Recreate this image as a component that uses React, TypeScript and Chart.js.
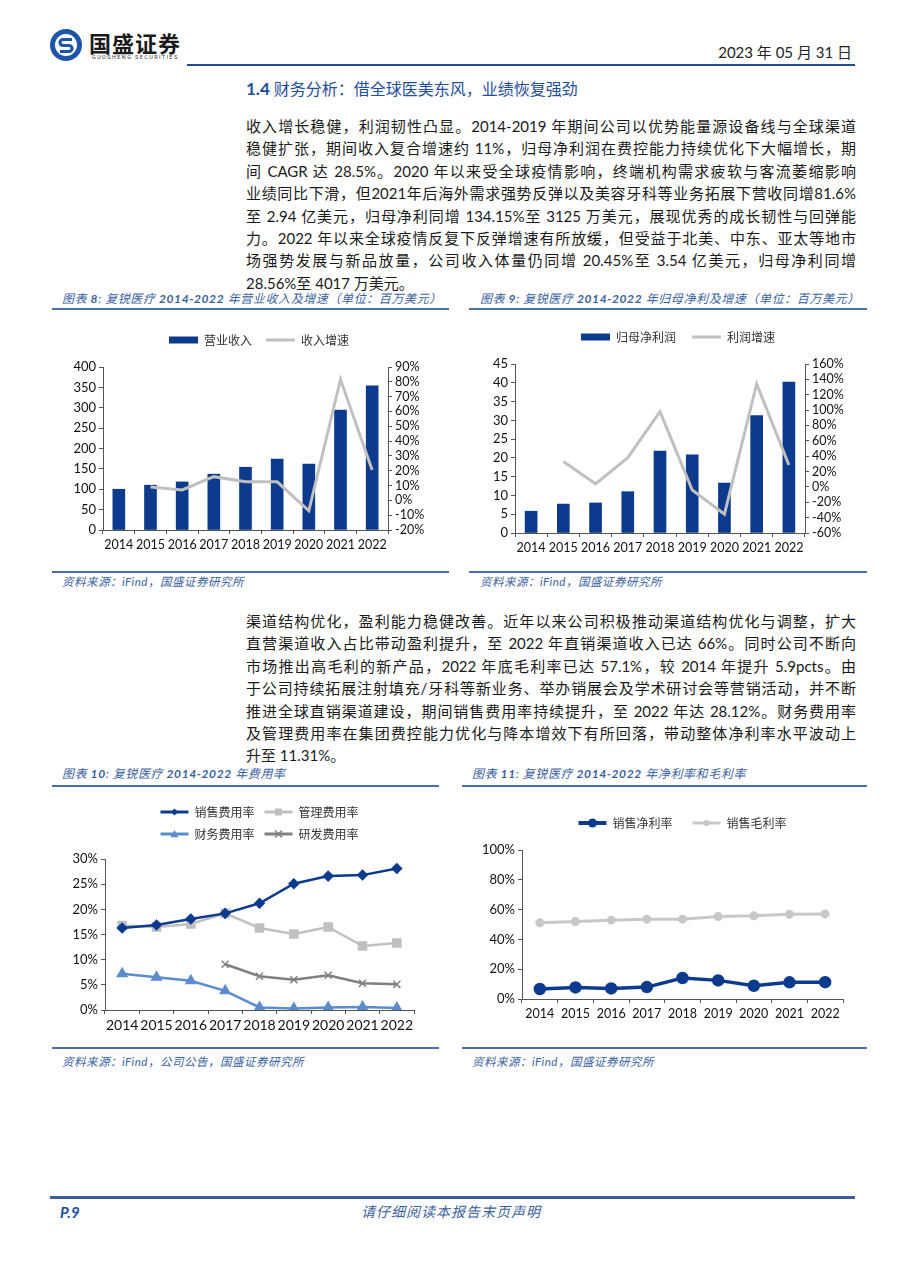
import React, { useEffect, useRef } from "react";
import { Chart, registerables } from "chart.js";

Chart.register(...registerables);

// ---------- data ----------
const years = ["2014", "2015", "2016", "2017", "2018", "2019", "2020", "2021", "2022"];
const revenue = [100, 110, 118, 137, 154, 174, 162, 294, 354];
const revenueGrowth = [null, 9, 7, 16, 12.5, 12.5, -7, 81.6, 20.45];
const netProfit = [5.8, 7.7, 8.0, 11.0, 21.8, 20.8, 13.3, 31.25, 40.17];
const profitGrowth = [null, 33, 4, 38, 98, -4, -35.5, 134.15, 28.56];
const sellingRate = [16.3, 16.9, 18.1, 19.2, 21.2, 25.1, 26.6, 26.8, 28.12];
const adminRate = [16.8, 16.5, 17.1, 19.2, 16.3, 15.1, 16.5, 12.7, 13.3];
const financeRate = [7.2, 6.5, 5.8, 3.8, 0.5, 0.3, 0.5, 0.6, 0.4];
const rdRate = [null, null, null, 9.1, 6.7, 6.0, 6.9, 5.3, 5.1];
const netMargin = [6.7, 7.8, 7.1, 8.0, 14.1, 12.5, 8.9, 11.2, 11.31];
const grossMargin = [51.2, 52.0, 52.9, 53.6, 53.6, 55.4, 55.8, 56.9, 57.1];

const para1 = [
  "收入增长稳健，利润韧性凸显。2014-2019 年期间公司以优势能量源设备线与全球渠道",
  "稳健扩张，期间收入复合增速约 11%，归母净利润在费控能力持续优化下大幅增长，期",
  "间 CAGR 达 28.5%。2020 年以来受全球疫情影响，终端机构需求疲软与客流萎缩影响",
  "业绩同比下滑，但2021年后海外需求强势反弹以及美容牙科等业务拓展下营收同增81.6%",
  "至 2.94 亿美元，归母净利同增 134.15%至 3125 万美元，展现优秀的成长韧性与回弹能",
  "力。2022 年以来全球疫情反复下反弹增速有所放缓，但受益于北美、中东、亚太等地市",
  "场强势发展与新品放量，公司收入体量仍同增 20.45%至 3.54 亿美元，归母净利同增",
  "28.56%至 4017 万美元。",
];
const para2 = [
  "渠道结构优化，盈利能力稳健改善。近年以来公司积极推动渠道结构优化与调整，扩大",
  "直营渠道收入占比带动盈利提升，至 2022 年直销渠道收入已达 66%。同时公司不断向",
  "市场推出高毛利的新产品，2022 年底毛利率已达 57.1%，较 2014 年提升 5.9pcts。由",
  "于公司持续拓展注射填充/牙科等新业务、举办销展会及学术研讨会等营销活动，并不断",
  "推进全球直销渠道建设，期间销售费用率持续提升，至 2022 年达 28.12%。财务费用率",
  "及管理费用率在集团费控能力优化与降本增效下有所回落，带动整体净利率水平波动上",
  "升至 11.31%。",
];

// ---------- styles ----------
const BLUE = "#0c3a8c";
const GRAY = "#c0c0c0";
const LBLUE = "#5b8ccc";
const DGRAY = "#808080";
const TICK_FONT = "Lato, 'Noto Sans CJK SC', sans-serif";
const CJK = "'Noto Sans CJK SC', sans-serif";
const TEXT_FONT = "Lato, 'Noto Sans CJK SC', sans-serif";
const TITLE_BLUE = "#3a62a0";
const RULE = "#4a6ea8";

type LegendItem = { text: string; style: string; color: string; width: number };
type Marker = { shape: string; r: number; color: string } | null;

function legend(items: LegendItem[], padding: number, fullSize: boolean, boxW: number) {
  return {
    display: true,
    position: "top",
    fullSize,
    labels: {
      usePointStyle: true,
      pointStyleWidth: boxW,
      boxHeight: 7,
      padding,
      color: "#333",
      font: { family: CJK, size: 12 },
      generateLabels: () =>
        items.map((it, i) => ({
          text: it.text,
          pointStyle: it.style,
          fillStyle: it.color,
          strokeStyle: it.color,
          lineWidth: it.width,
          hidden: false,
          datasetIndex: i,
          fontColor: "#333",
        })),
    },
  };
}

// draws the series marker on top of each legend line sample
function markerPlugin(markers: Marker[], boxW: number) {
  return {
    id: "legendMarkers",
    afterDraw(chart: any) {
      const lg = chart.legend;
      if (!lg || !lg.legendHitBoxes) return;
      const ctx = chart.ctx;
      lg.legendHitBoxes.forEach((b: any, i: number) => {
        const m = markers[i];
        if (!m) return;
        const cx = b.left + boxW / 2;
        const cy = b.top + 6;
        const r = m.r;
        ctx.save();
        ctx.fillStyle = m.color;
        ctx.strokeStyle = m.color;
        ctx.lineWidth = 1.5;
        ctx.beginPath();
        if (m.shape === "diamond") {
          ctx.moveTo(cx, cy - r);
          ctx.lineTo(cx + r, cy);
          ctx.lineTo(cx, cy + r);
          ctx.lineTo(cx - r, cy);
          ctx.closePath();
          ctx.fill();
        } else if (m.shape === "square") {
          ctx.rect(cx - r, cy - r, 2 * r, 2 * r);
          ctx.fill();
        } else if (m.shape === "triangle") {
          ctx.moveTo(cx, cy - r);
          ctx.lineTo(cx + r, cy + r * 0.8);
          ctx.lineTo(cx - r, cy + r * 0.8);
          ctx.closePath();
          ctx.fill();
        } else if (m.shape === "cross") {
          ctx.moveTo(cx - r, cy - r);
          ctx.lineTo(cx + r, cy + r);
          ctx.moveTo(cx + r, cy - r);
          ctx.lineTo(cx - r, cy + r);
          ctx.stroke();
        } else {
          ctx.arc(cx, cy, r, 0, Math.PI * 2);
          ctx.fill();
        }
        ctx.restore();
      });
    },
  };
}

const spacer = (h: number) => ({
  display: true,
  text: "",
  position: "top",
  weight: 500,
  padding: { top: h, bottom: 0 },
  font: { size: 1, lineHeight: "0px" },
});

const fixW = (w: number) => (s: any) => {
  s.width = w;
};
const fixH = (h: number) => (s: any) => {
  s.height = h;
};
const tickGrid = (offset = false) => ({
  display: true,
  drawOnChartArea: false,
  drawTicks: true,
  tickLength: 4,
  color: "#555",
  offset,
});
const axisBorder = { display: true, color: "#555", width: 1 };
const xTicks = (size: number) => ({
  font: { family: TICK_FONT, size },
  color: "#111",
  autoSkip: false,
  maxRotation: 0,
  minRotation: 0,
  padding: 3,
});
const yTicks = (step: number, pct: boolean, size = 13) => ({
  stepSize: step,
  autoSkip: false,
  font: { family: TICK_FONT, size },
  color: "#111",
  padding: 3,
  callback: (v: any) => (pct ? v + "%" : String(v)),
});

// ---------- chart configs ----------
const chart8 = () => ({
  type: "bar",
  data: {
    labels: years,
    datasets: [
      { type: "bar", label: "营业收入", data: revenue, backgroundColor: BLUE, barThickness: 12, yAxisID: "y", order: 2 },
      { type: "line", label: "收入增速", data: revenueGrowth, borderColor: GRAY, borderWidth: 3, pointRadius: 0, tension: 0, yAxisID: "y1", order: 1 },
    ],
  },
  options: {
    responsive: false,
    animation: false,
    layout: { padding: { left: 16, right: 0, top: 0, bottom: 0 } },
    plugins: {
      legend: legend(
        [
          { text: "营业收入", style: "rect", color: BLUE, width: 0 },
          { text: "收入增速", style: "line", color: GRAY, width: 3 },
        ],
        14,
        true,
        29
      ),
      subtitle: spacer(11),
      tooltip: { enabled: false },
    },
    scales: {
      x: { grid: tickGrid(true), border: axisBorder, ticks: xTicks(12.5), afterFit: fixH(34) },
      y: { position: "left", min: 0, max: 400, grid: tickGrid(), border: axisBorder, ticks: yTicks(50, false), afterFit: fixW(35) },
      y1: { position: "right", min: -20, max: 90, grid: tickGrid(), border: axisBorder, ticks: yTicks(10, true, 12.5), afterFit: fixW(62) },
    },
  },
});

const chart9 = () => ({
  type: "bar",
  data: {
    labels: years,
    datasets: [
      { type: "bar", label: "归母净利润", data: netProfit, backgroundColor: BLUE, barThickness: 12, yAxisID: "y", order: 2 },
      { type: "line", label: "利润增速", data: profitGrowth, borderColor: GRAY, borderWidth: 3, pointRadius: 0, tension: 0, yAxisID: "y1", order: 1 },
    ],
  },
  options: {
    responsive: false,
    animation: false,
    layout: { padding: { left: 18, right: 0, top: 0, bottom: 0 } },
    plugins: {
      legend: legend(
        [
          { text: "归母净利润", style: "rect", color: BLUE, width: 0 },
          { text: "利润增速", style: "line", color: GRAY, width: 3 },
        ],
        16,
        true,
        29
      ),
      subtitle: spacer(11),
      tooltip: { enabled: false },
    },
    scales: {
      x: { grid: tickGrid(true), border: axisBorder, ticks: xTicks(12.5), afterFit: fixH(31) },
      y: { position: "left", min: 0, max: 45, grid: tickGrid(), border: axisBorder, ticks: yTicks(5, false), afterFit: fixW(27) },
      y1: { position: "right", min: -60, max: 160, grid: tickGrid(), border: axisBorder, ticks: yTicks(20, true, 12.5), afterFit: fixW(63) },
    },
  },
});

const chart10 = () => ({
  type: "line",
  data: {
    labels: years,
    datasets: [
      { label: "销售费用率", data: sellingRate, borderColor: BLUE, backgroundColor: BLUE, borderWidth: 2.5, pointStyle: "rectRot", pointRadius: 4, tension: 0 },
      { label: "管理费用率", data: adminRate, borderColor: GRAY, backgroundColor: GRAY, borderWidth: 2.5, pointStyle: "rect", pointRadius: 5, tension: 0 },
      { label: "财务费用率", data: financeRate, borderColor: LBLUE, backgroundColor: LBLUE, borderWidth: 2.5, pointStyle: "triangle", pointRadius: 4.5, tension: 0 },
      { label: "研发费用率", data: rdRate, borderColor: DGRAY, backgroundColor: DGRAY, borderWidth: 2.5, pointStyle: "crossRot", pointRadius: 5, pointBorderWidth: 1.5, tension: 0 },
    ],
  },
  options: {
    responsive: false,
    animation: false,
    layout: { padding: { left: 0, right: 10, top: 0, bottom: 0 } },
    plugins: {
      legend: legend(
        [
          { text: "销售费用率", style: "line", color: BLUE, width: 3 },
          { text: "管理费用率", style: "line", color: GRAY, width: 3 },
          { text: "财务费用率", style: "line", color: LBLUE, width: 3 },
          { text: "研发费用率", style: "line", color: DGRAY, width: 3 },
        ],
        10,
        false,
        28
      ),
      subtitle: spacer(9),
      tooltip: { enabled: false },
    },
    scales: {
      x: { offset: true, grid: tickGrid(true), border: axisBorder, ticks: xTicks(14), afterFit: fixH(30) },
      y: { min: 0, max: 30, grid: tickGrid(), border: axisBorder, ticks: yTicks(5, true), afterFit: fixW(53) },
    },
  },
  plugins: [
    markerPlugin(
      [
        { shape: "diamond", r: 3.5, color: BLUE },
        { shape: "square", r: 3.5, color: GRAY },
        { shape: "triangle", r: 4, color: LBLUE },
        { shape: "cross", r: 3.5, color: DGRAY },
      ],
      28
    ),
  ],
});

const chart11 = () => ({
  type: "line",
  data: {
    labels: years,
    datasets: [
      { label: "销售净利率", data: netMargin, borderColor: BLUE, backgroundColor: BLUE, borderWidth: 3.5, pointStyle: "circle", pointRadius: 4.5, tension: 0 },
      { label: "销售毛利率", data: grossMargin, borderColor: "#c8c8c8", backgroundColor: "#c8c8c8", borderWidth: 3, pointStyle: "circle", pointRadius: 3, tension: 0 },
    ],
  },
  options: {
    responsive: false,
    animation: false,
    layout: { padding: { left: 0, right: 8, top: 0, bottom: 0 } },
    plugins: {
      legend: legend(
        [
          { text: "销售净利率", style: "line", color: BLUE, width: 4 },
          { text: "销售毛利率", style: "line", color: "#c8c8c8", width: 3 },
        ],
        20,
        false,
        28
      ),
      subtitle: spacer(11),
      tooltip: { enabled: false },
    },
    scales: {
      x: { offset: true, grid: tickGrid(true), border: axisBorder, ticks: xTicks(12.5), afterFit: fixH(30) },
      y: { min: 0, max: 100, grid: tickGrid(), border: axisBorder, ticks: yTicks(20, true), afterFit: fixW(60) },
    },
  },
  plugins: [
    markerPlugin(
      [
        { shape: "circle", r: 4.5, color: BLUE },
        { shape: "circle", r: 3, color: "#c8c8c8" },
      ],
      28
    ),
  ],
});

// ---------- components ----------
function ChartBox({ left, top, width, height, make }: any) {
  const ref = useRef<HTMLCanvasElement>(null);
  useEffect(() => {
    const chart = new Chart(ref.current as HTMLCanvasElement, make() as any);
    return () => chart.destroy();
  }, []);
  return (
    <div style={{ position: "absolute", left, top, width, height }}>
      <canvas ref={ref} width={width} height={height} style={{ display: "block", width, height }} />
    </div>
  );
}

function Txt({ x, y, size, children, color = "#1a1a1a", weight = 400, italic = false, w, align = "left", family = TEXT_FONT, ls = 0 }: any) {
  const lh = Math.round(size * 1.4);
  return (
    <div
      style={{
        position: "absolute",
        left: x,
        top: y - lh / 2,
        width: w,
        height: lh,
        lineHeight: lh + "px",
        fontSize: size,
        color,
        fontWeight: weight,
        fontStyle: italic ? "italic" : "normal",
        fontFamily: family,
        textAlign: align,
        letterSpacing: ls,
        whiteSpace: "nowrap",
      }}
    >
      {children}
    </div>
  );
}

function Rule({ x1, x2, y, h = 2, color = RULE }: any) {
  return <div style={{ position: "absolute", left: x1, top: y - h / 2, width: x2 - x1, height: h, background: color }} />;
}

function Para({ lines, x, y0, step, width }: any) {
  return (
    <>
      {lines.map((l: string, i: number) => {
        const last = i === lines.length - 1;
        return (
          <div
            key={i}
            style={{
              position: "absolute",
              left: x,
              top: y0 + i * step - 11,
              width,
              height: 22,
              lineHeight: "22px",
              fontSize: 15,
              fontFamily: TEXT_FONT,
              color: "#1a1a1a",
              textAlign: last ? "left" : "justify",
              textAlignLast: last ? "left" : "justify",
              overflow: "hidden",
            } as any}
          >
            {l}
          </div>
        );
      })}
    </>
  );
}

function ChartTitle({ x, y, num, rest }: any) {
  return (
    <Txt x={x} y={y} size={12} color={TITLE_BLUE} italic family={TEXT_FONT} ls={0.6}>
      图表 <b>{num}</b>: 复锐医疗 <b>2014-2022</b> {rest}
    </Txt>
  );
}

export default function App() {
  return (
    <div style={{ position: "absolute", left: 0, top: 0, width: 905, height: 1280, background: "#fff", overflow: "hidden" }}>
      {/* header */}
      <svg width="34" height="34" viewBox="0 0 34 34" style={{ position: "absolute", left: 49, top: 28 }}>
        <circle cx="17" cy="17" r="16" fill="#1d56a8" />
        <circle cx="17" cy="17" r="11" fill="#fff" />
        <path d="M23 11.5 H14 a3 3 0 0 0 0 6 h6 a3 3 0 0 1 0 6 H11" stroke="#1d56a8" strokeWidth="3.2" fill="none" />
      </svg>
      <Txt x={89} y={42} size={22} weight={700} color="#1a1a1a" family={CJK} ls={1}>
        国盛证券
      </Txt>
      <Txt x={92} y={57} size={5.5} color="#333" family="Roboto, sans-serif" ls={1.4}>
        GUOSHENG SECURITIES
      </Txt>
      <Txt x={600} w={252} y={52} size={15} align="right" color="#222">
        2023 年 05 月 31 日
      </Txt>
      <Rule x1={187} x2={855} y={65} h={2} color="#1f4e8c" />

      {/* section heading */}
      <Txt x={246} y={89} size={16} color="#1f4e9a" family={TEXT_FONT}>
        <b style={{ fontSize: 17 }}>1.4</b> 财务分析：借全球医美东风，业绩恢复强劲
      </Txt>

      <Para lines={para1} x={246} y0={126} step={22.4} width={610} />

      {/* chart 8 */}
      <ChartTitle x={62} y={298} num="8" rest="年营业收入及增速（单位：百万美元）" />
      <Rule x1={52} x2={449} y={309} />
      <ChartBox left={52} top={320} width={398} height={244} make={chart8} />
      <Rule x1={52} x2={449} y={572} />
      <Txt x={62} y={582} size={11.5} color={TITLE_BLUE} italic ls={0.5}>
        资料来源：iFind，国盛证券研究所
      </Txt>

      {/* chart 9 */}
      <ChartTitle x={480} y={298} num="9" rest="年归母净利及增速（单位：百万美元）" />
      <Rule x1={469} x2={867} y={309} />
      <ChartBox left={470} top={315} width={398} height={249} make={chart9} />
      <Rule x1={469} x2={867} y={572} />
      <Txt x={480} y={582} size={11.5} color={TITLE_BLUE} italic ls={0.5}>
        资料来源：iFind，国盛证券研究所
      </Txt>

      <Para lines={para2} x={246} y0={621} step={22.4} width={610} />

      {/* chart 10 */}
      <ChartTitle x={62} y={773} num="10" rest="年费用率" />
      <Rule x1={52} x2={439} y={786} />
      <ChartBox left={52} top={796} width={372} height={244} make={chart10} />
      <Rule x1={52} x2={439} y={1048} />
      <Txt x={62} y={1062} size={11.5} color={TITLE_BLUE} italic ls={0.5}>
        资料来源：iFind，公司公告，国盛证券研究所
      </Txt>

      {/* chart 11 */}
      <ChartTitle x={472} y={773} num="11" rest="年净利率和毛利率" />
      <Rule x1={462} x2={867} y={786} />
      <ChartBox left={462} top={797} width={389} height={232} make={chart11} />
      <Rule x1={462} x2={867} y={1048} />
      <Txt x={472} y={1062} size={11.5} color={TITLE_BLUE} italic ls={0.5}>
        资料来源：iFind，国盛证券研究所
      </Txt>

      {/* footer */}
      <Rule x1={50} x2={855} y={1197} h={3} color="#3a5f9a" />
      <Txt x={60} y={1212} size={15} weight={700} italic color="#1f4e9a">
        P.9
      </Txt>
      <Txt x={300} w={302} y={1212} size={14} italic align="center" color="#3a5f9a" ls={1}>
        请仔细阅读本报告末页声明
      </Txt>
    </div>
  );
}
